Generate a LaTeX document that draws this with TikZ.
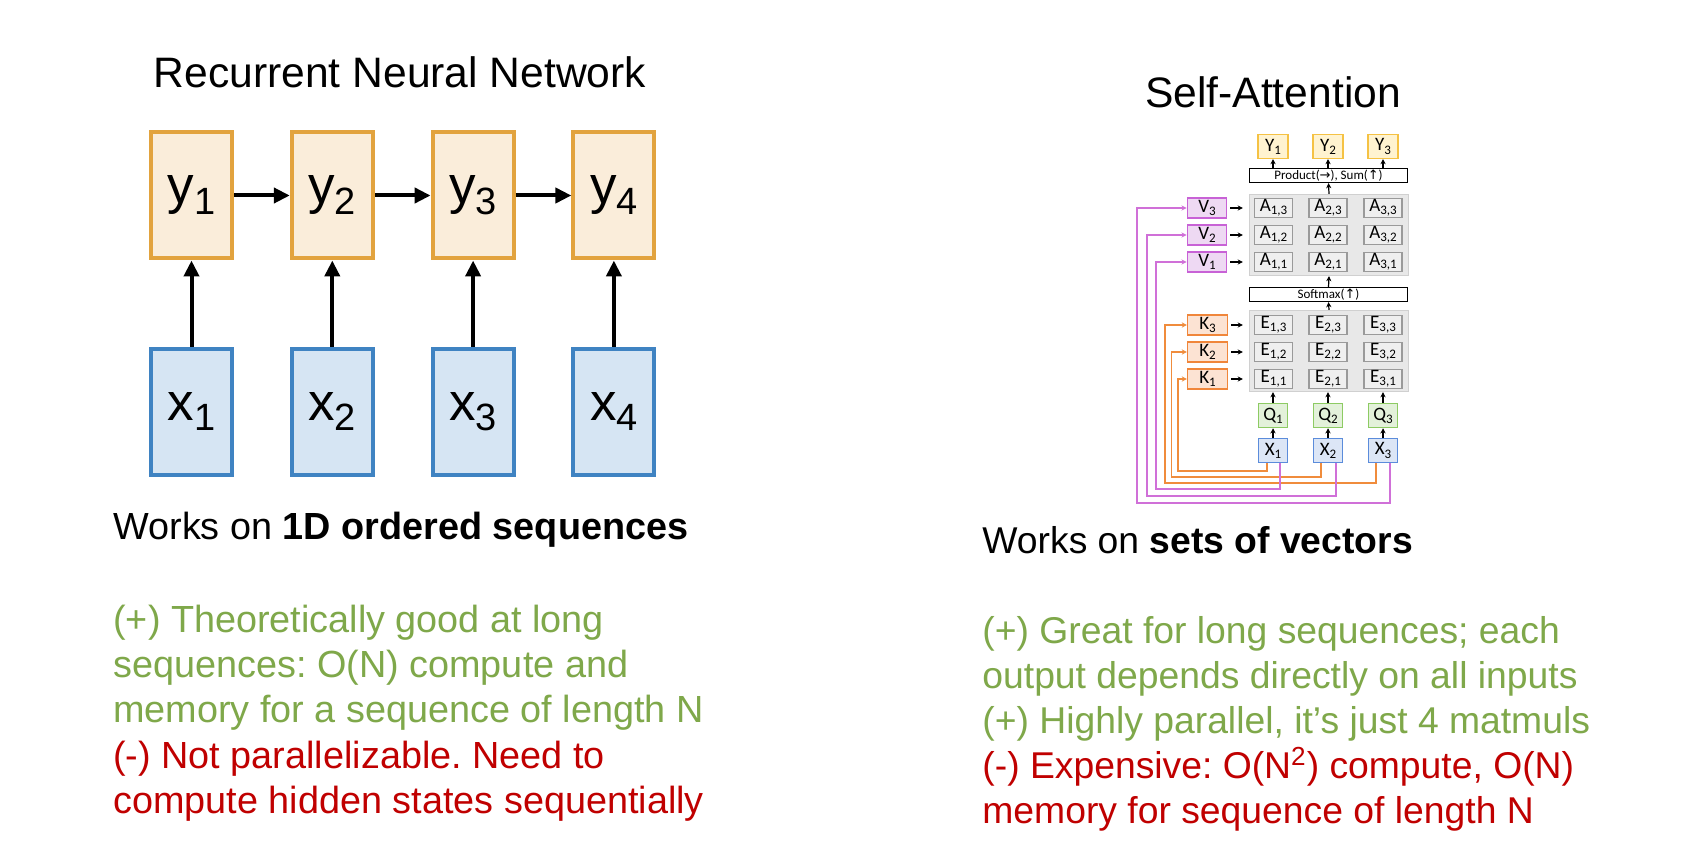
\documentclass[tikz,border=0pt]{standalone}
\usepackage{fontspec}
\setmainfont{Liberation Sans}
\newfontfamily\carl{Carlito}
\newfontfamily\djv{DejaVu Sans}
\usetikzlibrary{arrows.meta}
\frenchspacing
\definecolor{ybord}{HTML}{E2A33E}
\definecolor{yfill}{HTML}{FAEDDA}
\definecolor{xbord}{HTML}{3F83C2}
\definecolor{xfill}{HTML}{D6E5F3}
\definecolor{goodc}{HTML}{7FA84A}
\definecolor{badc}{HTML}{C00000}
\definecolor{sYb}{HTML}{F5C244}
\definecolor{sYf}{HTML}{FFF3D0}
\definecolor{sVb}{HTML}{C862D6}
\definecolor{sVf}{HTML}{EED9F3}
\definecolor{sKb}{HTML}{F0863A}
\definecolor{sKf}{HTML}{FCE3D3}
\definecolor{sQb}{HTML}{8DCB63}
\definecolor{sQf}{HTML}{E3F1DA}
\definecolor{sXb}{HTML}{5B8CDB}
\definecolor{sXf}{HTML}{DCE6F6}
\definecolor{gridf}{HTML}{E8E8E8}
\definecolor{gridb}{HTML}{D0D0D0}
\definecolor{cellf}{HTML}{EFEFEF}
\definecolor{cellb}{HTML}{9A9A9A}
\definecolor{pinkl}{HTML}{D070D8}
\definecolor{orangel}{HTML}{F08C3C}
\newcommand\rnnlab[2]{#1\raisebox{-0.2em}{\fontsize{19}{19}\selectfont #2}}
\newcommand\sbx[2]{#1\raisebox{-0.35ex}{\fontsize{6.5}{6.5}\selectfont #2}}
\tikzset{
  rnny/.style={draw=ybord, fill=yfill, line width=2pt, minimum width=40.5pt, minimum height=63pt, inner sep=0pt, font=\fontsize{26.5}{30}\selectfont},
  rnnx/.style={rnny, draw=xbord, fill=xfill},
  bigarr/.style={line width=2pt, -{Triangle[length=8pt,width=7.5pt]}},
  ttl/.style={font=\fontsize{21.3}{25}\selectfont, anchor=base},
  txt/.style={font=\fontsize{18.9}{22.5}\selectfont, anchor=base west, inner sep=0pt},
  rtxt/.style={txt, font=\fontsize{18.65}{22.5}\selectfont},
  sbox/.style={line width=0.75pt, inner sep=0pt, font=\carl\fontsize{9.5}{10}\selectfont},
  sY/.style={sbox, draw=sYb, fill=sYf, minimum width=14.8pt, minimum height=11.8pt},
  sV/.style={sbox, draw=sVb, fill=sVf, minimum width=19.6pt, minimum height=10pt},
  sK/.style={sbox, draw=sKb, fill=sKf, minimum width=19.8pt, minimum height=10pt},
  sQ/.style={sbox, draw=sQb, fill=sQf, minimum width=14.5pt, minimum height=12pt},
  sX/.style={sbox, draw=sXb, fill=sXf, minimum width=14.5pt, minimum height=12pt},
  bar/.style={line width=0.6pt, draw=black, fill=white, minimum width=79pt, minimum height=7pt, inner sep=0pt, font=\carl\fontsize{6.5}{7}\selectfont},
  grid/.style={draw=gridb, fill=gridf, line width=0.6pt, minimum width=79.5pt, minimum height=40.5pt, inner sep=0pt},
  cell/.style={sbox, draw=cellb, fill=cellf, minimum width=19pt, minimum height=9.5pt},
  sarr/.style={line width=0.6pt, -{Stealth[length=2.6pt,width=2.6pt]}},
  pline/.style={draw=pinkl, line width=0.85pt, -{Stealth[length=2.6pt,width=2.6pt]}},
  oline/.style={draw=orangel, line width=0.85pt, -{Stealth[length=2.6pt,width=2.6pt]}},
}
\begin{document}
\begin{tikzpicture}[x=0.5pt,y=-0.5pt]
\useasboundingbox[fill=white] (0,0) rectangle (1692,850);
% ---------- RNN ----------
\node[ttl] (rtitle) at (400,88) {Recurrent Neural Network};
\foreach \i/\cx in {1/191.5,2/332.3,3/473.1,4/613.9}{
  \node[rnny] (ry\i) at (\cx,195.5) {\rnnlab{y}{\i}};
  \node[rnnx] (rx\i) at (\cx,411.5) {\rnnlab{x}{\i}};
  \draw[bigarr] (rx\i.north) -- (ry\i.south);
}
\draw[bigarr] (ry1.east) -- (ry2.west);
\draw[bigarr] (ry2.east) -- (ry3.west);
\draw[bigarr] (ry3.east) -- (ry4.west);
\node[txt] (rworks) at (113,539) {Works on \textbf{1D ordered sequences}};
\node[txt, text=goodc] (rg1) at (113,632) {(+) Theoretically good at long};
\node[txt, text=goodc] (rg2) at (113,677) {sequences: O(N) compute and};
\node[txt, text=goodc] (rg3) at (113,722) {memory for a sequence of length N};
\node[txt, text=badc] (rb1) at (113,768) {(-) Not parallelizable. Need to};
\node[txt, text=badc] (rb2) at (113,813) {compute hidden states sequentially};
% ---------- Self-Attention ----------
\node[ttl] (stitle) at (1273,108) {Self-Attention};
\node[bar] (prod) at (1328.5,175.5) {Product({\djv →}), Sum({\djv ↑})};
\node[grid] (agrid) at (1329,235) {};
\node[bar] (soft) at (1328.5,294.5) {Softmax({\djv ↑})};
\node[grid] (egrid) at (1329,351) {};
\foreach \c/\cx in {1/1273,2/1328,3/1383}{
  \node[sY] (oy\c) at (\cx,146.5) {\sbx{Y}{\c}};
  \node[sQ] (q\c) at (\cx,415.5) {\sbx{Q}{\c}};
  \node[sX] (xx\c) at (\cx,450.5) {\sbx{X}{\c}};
  \draw[sarr] (oy\c.south |- prod.north) -- (oy\c.south);
  \draw[sarr] (q\c.north) -- (q\c.north |- egrid.south);
  \draw[sarr] (xx\c.north) -- (q\c.south);
}
\foreach \r/\ry/\ey in {3/208/325,2/235/352,1/262/379}{
  \foreach \c/\cx in {1/1273.5,2/1328,3/1383}{
    \node[cell] (a\c\r) at (\cx,\ry) {\sbx{A}{\c,\r}};
    \node[cell] (e\c\r) at (\cx,\ey) {\sbx{E}{\c,\r}};
  }
  \node[sV] (v\r) at (1207,\ry) {\sbx{V}{\r}};
  \node[sK] (k\r) at (1207.5,\ey) {\sbx{K}{\r}};
  \draw[sarr, shorten <=1.5pt, shorten >=3pt] (v\r.east) -- (v\r.east -| agrid.west);
  \draw[sarr, shorten <=1.5pt, shorten >=3pt] (k\r.east) -- (k\r.east -| egrid.west);
}
\draw[sarr] (agrid.north) -- (prod.south);
\draw[sarr] (soft.north) -- (agrid.south);
\draw[sarr] (egrid.north) -- (soft.south);
% orange (keys)
\coordinate (ok1) at (1178,471);
\coordinate (ok2) at (1171.5,477);
\coordinate (ok3) at (1165,483);
\draw[oline] ([xshift=-3pt]xx1.south) |- (ok1) |- (k1.west);
\draw[oline] ([xshift=-3.5pt]xx2.south) |- (ok2) |- (k2.west);
\draw[oline] ([xshift=-3.5pt]xx3.south) |- (ok3) |- (k3.west);
% pink (values)
\coordinate (pv1) at (1156,489);
\coordinate (pv2) at (1147,496);
\coordinate (pv3) at (1137,503);
\draw[pline] ([xshift=3.5pt]xx1.south) |- (pv1) |- (v1.west);
\draw[pline] ([xshift=4pt]xx2.south) |- (pv2) |- (v2.west);
\draw[pline] ([xshift=3.5pt]xx3.south) |- (pv3) |- (v3.west);
\node[rtxt] (sworks) at (982,553) {Works on \textbf{sets of vectors}};
\node[rtxt, text=goodc] (sg1) at (982,643) {(+) Great for long sequences; each};
\node[rtxt, text=goodc] (sg2) at (982,688) {output depends directly on all inputs};
\node[rtxt, text=goodc] (sg3) at (982,733) {(+) Highly parallel, it’s just 4 matmuls};
\node[rtxt, text=badc] (sb1) at (982,778) {(-) Expensive: O(N\textsuperscript{2}) compute, O(N)};
\node[rtxt, text=badc] (sb2) at (982,823) {memory for sequence of length N};
\end{tikzpicture}
\end{document}
